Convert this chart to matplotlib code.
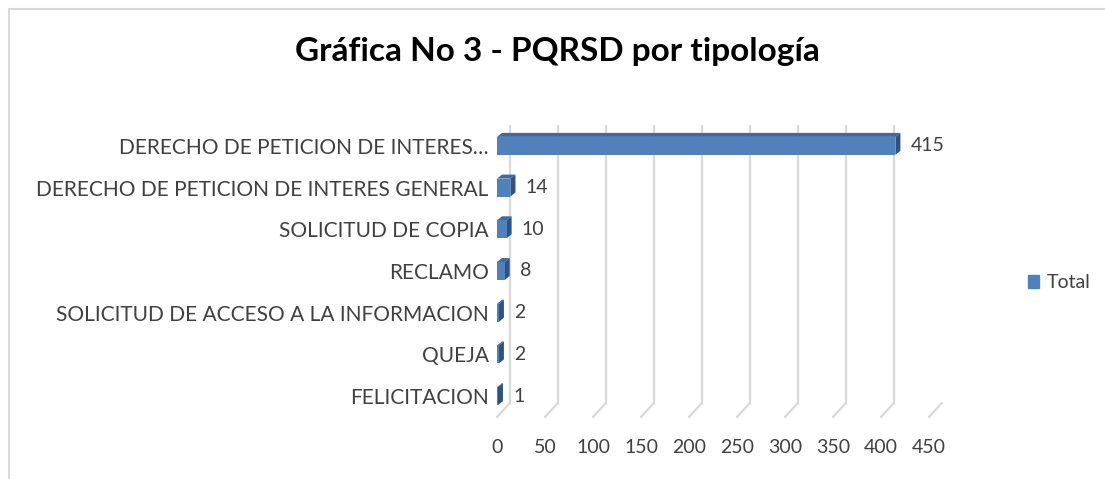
import numpy as np
import matplotlib.pyplot as plt
import matplotlib.transforms as mtransforms
from matplotlib.patches import Rectangle, Patch, Polygon

plt.rcParams['font.family'] = ['Lato', 'DejaVu Sans']

# data (bottom to top, as drawn)
categories = ['FELICITACION', 'QUEJA', 'SOLICITUD DE ACCESO A LA INFORMACION',
              'RECLAMO', 'SOLICITUD DE COPIA',
              'DERECHO DE PETICION DE INTERES GENERAL',
              'DERECHO DE PETICION DE INTERES\u2026']
totals = [1, 2, 2, 8, 10, 14, 415]
ticks = [0, 50, 100, 150, 200, 250, 300, 350, 400, 450]

bar_color = '#4F81BD'
top_color = '#41699C'
side_color = '#2F5283'
grid_color = '#D9D9D9'
text_color = '#404040'

W, H = 1105, 479
fig = plt.figure(figsize=(W / 100, H / 100), dpi=100)

# light frame of the chart area
fig.patches.append(Rectangle((9 / W, -0.1), 1.2, 1 - 9 / H + 0.1,
                             transform=fig.transFigure, fill=False,
                             edgecolor='#D9D9D9', linewidth=1.5))

# front plane of the axes in pixels
left, right, top, bottom = 497, 929, 125, 417
ax = fig.add_axes([left / W, 1 - bottom / H, (right - left) / W, (bottom - top) / H])
ax.set_xlim(0, 450)
ax.set_ylim(-0.5, len(categories) - 0.5)
for s in ax.spines.values():
    s.set_visible(False)
ax.patch.set_alpha(0)

# back wall gridlines, shifted for the 3d look
dx, dy = 13, 14
back = ax.get_xaxis_transform() + mtransforms.ScaledTranslation(dx / 100, dy / 100, fig.dpi_scale_trans)
for t in ticks:
    ax.plot([t, t], [0, 1], color=grid_color, lw=1.6, transform=back, zorder=0)
    # floor lines from the wall to the front
    ax.annotate('', xy=(t, 0), xycoords=ax.get_xaxis_transform(),
                xytext=(t, 0), textcoords=back,
                arrowprops=dict(arrowstyle='-', color=grid_color, lw=1.6,
                                shrinkA=0, shrinkB=0))

y = np.arange(len(categories))
h = 0.43
ax.barh(y, totals, height=h, color=bar_color, zorder=3)

# depth of the bars: 4 px right and up, turned into data units
inv = ax.transData.inverted()
p0 = inv.transform(ax.transData.transform((0, 0)))
p1 = inv.transform(ax.transData.transform((0, 0)) + np.array([5, 4]))
ddx, ddy = p1 - p0
for yi, v in zip(y, totals):
    yb, yt = yi - h / 2, yi + h / 2
    ax.add_patch(Polygon([(0, yt), (v, yt), (v + ddx, yt + ddy), (ddx, yt + ddy)],
                         closed=True, color=top_color, lw=0, zorder=2))
    ax.add_patch(Polygon([(v, yb), (v + ddx, yb + ddy), (v + ddx, yt + ddy), (v, yt)],
                         closed=True, color=side_color, lw=0, zorder=2))

for yi, v in zip(y, totals):
    ax.annotate(str(v), xy=(v, yi), xytext=(11, 0), textcoords='offset points',
                va='center', ha='left', fontsize=14, color=text_color)

ax.set_yticks(y)
ax.set_yticklabels(categories, fontsize=15, color=text_color)
ax.set_xticks(ticks)
ax.set_xticklabels([str(t) for t in ticks], fontsize=14, color=text_color)
ax.tick_params(axis='both', length=0)
ax.tick_params(axis='y', pad=6)
ax.tick_params(axis='x', pad=16)

fig.text(557 / W, 1 - 52 / H, 'Gráfica No 3 - PQRSD por tipología',
         ha='center', va='center', fontsize=24, fontweight='bold', color='black')

fig.legend(handles=[Patch(color=bar_color, label='Total')],
           loc='center left', bbox_to_anchor=(1010 / W, 1 - 283 / H),
           frameon=False, fontsize=14, handlelength=0.6, handleheight=0.6,
           handletextpad=0.4, labelcolor=text_color)

fig.savefig('out.png', dpi=100)
